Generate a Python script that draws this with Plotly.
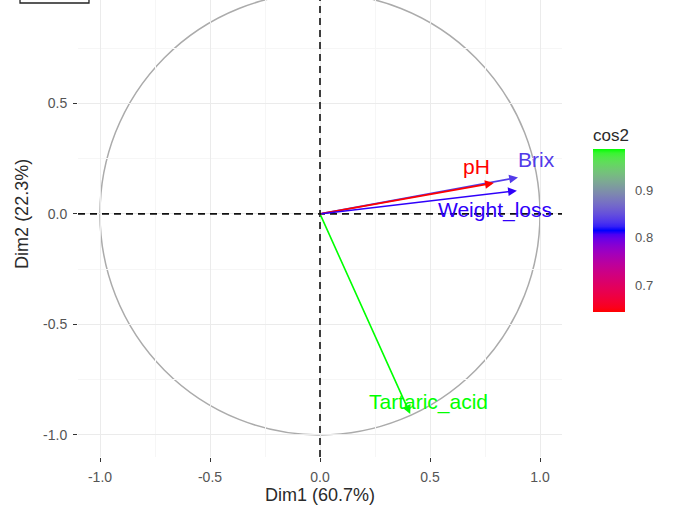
import numpy as np
import plotly.graph_objects as go

# Variable coordinates on the first two principal dimensions
variables = ["Brix", "pH", "Weight_loss", "Tartaric_acid"]
dim1 = [0.90, 0.79, 0.895, 0.41]
dim2 = [0.165, 0.14, 0.105, -0.905]

axis_ticks = [-1.0, -0.5, 0.0, 0.5, 1.0]
axis_ticktext = ["-1.0", "-0.5", "0.0", "0.5", "1.0"]
cos2_ticks = [0.7, 0.8, 0.9]

# quality of representation on Dim1-Dim2
cos2 = [a * a + b * b for a, b in zip(dim1, dim2)]

# label offsets (pixels) relative to each arrow tip
label_shift = {
    "Brix": (18, 18),
    "pH": (-17, 16),
    "Weight_loss": (-22, -19),
    "Tartaric_acid": (18, 12),
}

FONT = "Liberation Sans, Arial, sans-serif"

# ---- gradient red -> blue -> green, interpolated in CIELAB ----
_M = np.array([[0.4124564, 0.3575761, 0.1804375],
               [0.2126729, 0.7151522, 0.0721750],
               [0.0193339, 0.1191920, 0.9503041]])
_WHITE = np.array([0.95047, 1.0, 1.08883])
_D = 6 / 29


def hex_to_lab(h):
    rgb = np.array([int(h[i:i + 2], 16) for i in (1, 3, 5)]) / 255.0
    lin = np.where(rgb <= 0.04045, rgb / 12.92, ((rgb + 0.055) / 1.055) ** 2.4)
    xyz = (_M @ lin) / _WHITE
    f = np.where(xyz > _D ** 3, np.cbrt(xyz), xyz / (3 * _D ** 2) + 4 / 29)
    return np.array([116 * f[1] - 16, 500 * (f[0] - f[1]), 200 * (f[1] - f[2])])


def lab_to_hex(lab):
    fy = (lab[0] + 16) / 116
    f = np.array([fy + lab[1] / 500, fy, fy - lab[2] / 200])
    xyz = np.where(f > _D, f ** 3, 3 * _D ** 2 * (f - 4 / 29)) * _WHITE
    lin = np.clip(np.linalg.solve(_M, xyz), 0, 1)
    rgb = np.where(lin <= 0.0031308, 12.92 * lin, 1.055 * lin ** (1 / 2.4) - 0.055)
    rgb = np.clip(np.round(rgb * 255), 0, 255).astype(int)
    return "#{:02x}{:02x}{:02x}".format(*rgb)


stops = [hex_to_lab(c) for c in ("#ff0000", "#0000ff", "#00ff00")]


def ramp(t):
    t = min(max(t, 0.0), 1.0)
    if t <= 0.5:
        a, b, u = stops[0], stops[1], t / 0.5
    else:
        a, b, u = stops[1], stops[2], (t - 0.5) / 0.5
    return lab_to_hex(a + (b - a) * u)


colorscale = [[i / 40, ramp(i / 40)] for i in range(41)]
cmin, cmax = min(cos2), max(cos2)
colors = [ramp((c - cmin) / (cmax - cmin)) for c in cos2]

fig = go.Figure()

# invisible markers that carry the cos2 colour bar
fig.add_trace(go.Scatter(
    x=dim1, y=dim2, mode="markers", hoverinfo="skip", showlegend=False,
    marker=dict(
        size=0.1, opacity=0, color=cos2, colorscale=colorscale,
        cmin=cmin, cmax=cmax, showscale=True,
        colorbar=dict(
            title=dict(text="cos2", side="top",
                       font=dict(family=FONT, size=17, color="#2a2a2a")),
            thickness=32, len=187, lenmode="pixels",
            x=1.064, xanchor="left", xpad=0,
            y=0.3173, yanchor="bottom", ypad=0,
            outlinewidth=0, tickvals=cos2_ticks,
            ticktext=[f"{v:.1f}" for v in cos2_ticks],
            ticks="outside", ticklen=8, tickcolor="rgba(0,0,0,0)", tickwidth=1,
            tickfont=dict(family=FONT, size=13, color="#555555"),
        ),
    ),
))

shapes = [
    # unit correlation circle
    dict(type="circle", xref="x", yref="y", x0=-1, y0=-1, x1=1, y1=1,
         line=dict(color="#ababab", width=1.5), layer="below"),
    # dashed reference axes
    dict(type="line", xref="x domain", yref="y", x0=0, x1=1, y0=0, y1=0,
         line=dict(color="#111111", width=1.6, dash="7px,5px")),
    dict(type="line", xref="x", yref="y domain", x0=0, x1=0, y0=0, y1=1,
         line=dict(color="#111111", width=1.6, dash="7px,5px")),
    # framed box in the upper-left corner
    dict(type="rect", xref="paper", yref="paper",
         x0=-0.1198, x1=0.0227, y0=0.9934, y1=1.2,
         line=dict(color="#222222", width=1.3), fillcolor="rgba(0,0,0,0)"),
]

annotations = []
for name, x, y, col in zip(variables, dim1, dim2, colors):
    annotations.append(dict(
        x=x, y=y, ax=0, ay=0, xref="x", yref="y", axref="x", ayref="y",
        text="", showarrow=True, arrowhead=2, arrowsize=1.1,
        arrowwidth=1.6, arrowcolor=col, standoff=0,
    ))
    dx, dy = label_shift[name]
    annotations.append(dict(
        x=x, y=y, xref="x", yref="y", text=name, showarrow=False,
        xshift=dx, yshift=dy,
        font=dict(family=FONT, size=21, color=col),
    ))

# y-axis title, centred on the full panel height
annotations.append(dict(
    x=-0.1157, y=0.532, xref="paper", yref="paper", text="Dim2 (22.3%)",
    textangle=-90, showarrow=False, xanchor="center", yanchor="middle",
    font=dict(family=FONT, size=18, color="#2a2a2a"),
))

axis_common = dict(
    showline=False, zeroline=False, showgrid=True,
    gridcolor="#ebebeb", gridwidth=1,
    minor=dict(dtick=0.25, tick0=0, showgrid=True,
               gridcolor="#f6f6f6", gridwidth=0.6),
    ticks="outside", ticklen=4, tickcolor="#333333", tickwidth=1,
    ticklabelstandoff=3,
    tickfont=dict(family=FONT, size=14, color="#555555"),
)

fig.update_layout(
    width=678, height=514,
    margin=dict(l=78, r=116, t=0, b=57),
    paper_bgcolor="white", plot_bgcolor="white",
    shapes=shapes, annotations=annotations,
    xaxis=dict(range=[-1.1, 1.1], tickvals=axis_ticks, ticktext=axis_ticktext,
               title=dict(text="Dim1 (60.7%)", standoff=3,
                          font=dict(family=FONT, size=18, color="#2a2a2a")),
               **axis_common),
    yaxis=dict(range=[-1.1, 0.968], tickvals=axis_ticks[:4],
               ticktext=axis_ticktext[:4], automargin=False,
               **axis_common),
)

fig.write_html("out.html")
